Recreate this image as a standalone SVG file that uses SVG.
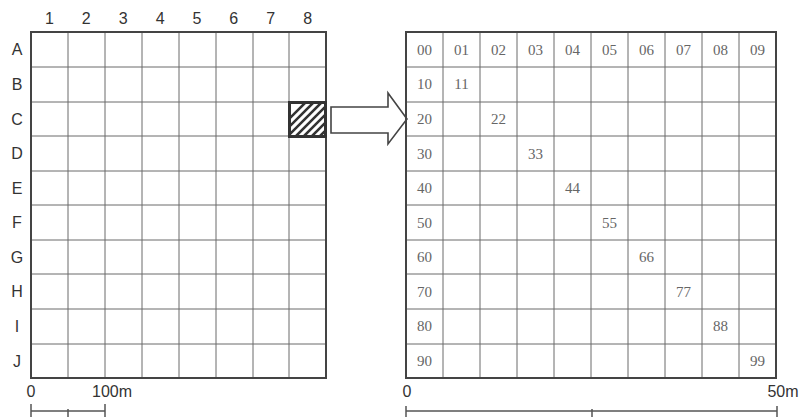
<svg xmlns="http://www.w3.org/2000/svg" width="801" height="417" viewBox="0 0 801 417">
<defs>
<style>
.lbl{font-family:"Liberation Sans",Arial,sans-serif;font-size:16px;fill:#333;text-anchor:middle}
.num{font-family:"Liberation Serif","Times New Roman",serif;font-size:15px;fill:#666;text-anchor:middle}
.grid{stroke:#6a6a6a;stroke-width:1;fill:none}
.border{stroke:#444;stroke-width:2;fill:none}
.bar{stroke:#555;stroke-width:1.5;fill:none}
</style>
<clipPath id="hc"><rect x="289" y="102" width="37" height="35"/></clipPath>
</defs>
<rect width="801" height="417" fill="#fff"/>

<g id="left-grid">
<path class="grid" d="M68,32V378M105,32V378M142,32V378M179,32V378M216,32V378M253,32V378M289,32V378M31,67H326M31,102H326M31,136H326M31,171H326M31,205H326M31,240H326M31,274H326M31,309H326M31,344H326"/>
<rect class="border" x="31" y="32" width="295" height="346"/>
<g class="lbl">
<text x="49.4" y="24">1</text><text x="86.3" y="24">2</text><text x="123.2" y="24">3</text><text x="160.1" y="24">4</text><text x="197" y="24">5</text><text x="233.8" y="24">6</text><text x="270.7" y="24">7</text><text x="307.6" y="24">8</text>
<text x="17" y="55">A</text><text x="17" y="89.5">B</text><text x="17" y="124.5">C</text><text x="17" y="159">D</text><text x="17" y="193.5">E</text><text x="17" y="228">F</text><text x="17" y="262.5">G</text><text x="17" y="297">H</text><text x="17" y="331.5">I</text><text x="17" y="366.5">J</text>
</g>
</g>

<g id="hatched-cell">
<g clip-path="url(#hc)" stroke="#333" stroke-width="2.6">
<path d="M262,146L307,101M270,146L315,101M278,146L323,101M286,146L331,101M294,146L339,101M302,146L347,101M310,146L355,101"/>
</g>
<rect x="289.5" y="102.5" width="36" height="34" fill="none" stroke="#333" stroke-width="3"/>
</g>

<g id="connectors">
<polygon points="331,107 388,107 388,93 407,119 388,144 388,133 331,133" fill="#fff" stroke="#444" stroke-width="1.6" stroke-linejoin="miter"/>
</g>

<g id="right-grid">
<path class="grid" d="M443,32V378M480,32V378M517,32V378M554,32V378M591,32V378M628,32V378M665,32V378M702,32V378M739,32V378M406,67H776M406,102H776M406,136H776M406,171H776M406,205H776M406,240H776M406,274H776M406,309H776M406,344H776"/>
<rect class="border" x="406" y="32" width="370" height="346"/>
<g class="num">
<text x="424.5" y="54.5">00</text><text x="461.5" y="54.5">01</text><text x="498.5" y="54.5">02</text><text x="535.5" y="54.5">03</text><text x="572.5" y="54.5">04</text><text x="609.5" y="54.5">05</text><text x="646.5" y="54.5">06</text><text x="683.5" y="54.5">07</text><text x="720.5" y="54.5">08</text><text x="757.5" y="54.5">09</text>
<text x="424.5" y="89">10</text><text x="424.5" y="124">20</text><text x="424.5" y="158.5">30</text><text x="424.5" y="193">40</text><text x="424.5" y="227.5">50</text><text x="424.5" y="262">60</text><text x="424.5" y="296.5">70</text><text x="424.5" y="331">80</text><text x="424.5" y="366">90</text>
<text x="461.5" y="89">11</text><text x="498.5" y="124">22</text><text x="535.5" y="158.5">33</text><text x="572.5" y="193">44</text><text x="609.5" y="227.5">55</text><text x="646.5" y="262">66</text><text x="683.5" y="296.5">77</text><text x="720.5" y="331">88</text><text x="757.5" y="366">99</text>
</g>
</g>

<g id="left-scale">
<text class="lbl" x="31" y="397">0</text>
<text class="lbl" x="112" y="397">100m</text>
<path class="bar" d="M31,404V417M68,409V417M105,404V417M31,411H105"/>
</g>

<g id="right-scale">
<text class="lbl" x="407" y="397">0</text>
<text class="lbl" x="783" y="397">50m</text>
<path class="bar" d="M406,406V417M592,409V417M777,406V417M406,411H777"/>
</g>
</svg>
